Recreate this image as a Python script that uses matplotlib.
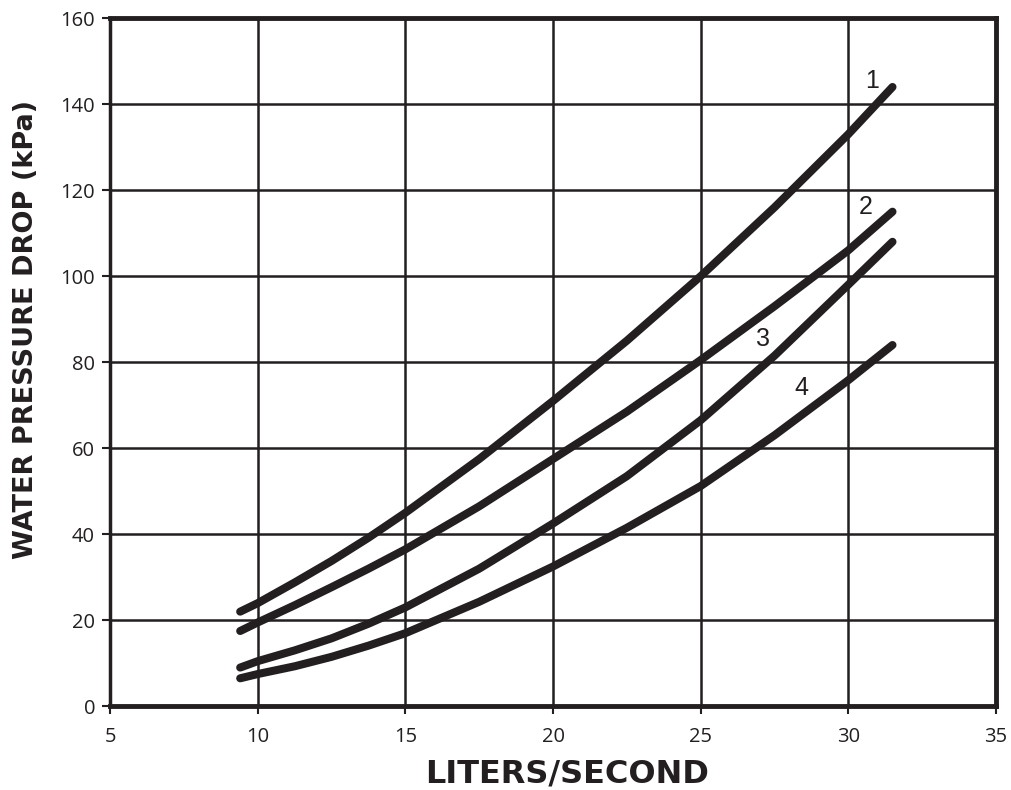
import matplotlib
matplotlib.use("Agg")
import matplotlib.pyplot as plt

# flow rate (L/s) at which each curve was read
flow = [9.4, 10, 11.25, 12.5, 13.75, 15, 17.5, 20, 22.5, 25, 27.5, 30, 31.5]

# pressure drop (kPa) per curve
curve_1 = [22, 24, 28.8, 33.8, 39.2, 45, 57.5, 71, 85, 100, 116, 133, 144]
curve_2 = [17.5, 19.5, 23.5, 27.7, 32, 36.5, 46.5, 57.5, 68.5, 80.5, 93, 106, 115]
curve_3 = [9, 10.5, 13, 15.8, 19.2, 23, 32, 42.5, 53.5, 66.5, 81.5, 98, 108]
curve_4 = [6.5, 7.5, 9.3, 11.5, 14.1, 17, 24.3, 32.5, 41.5, 51.2, 63, 75.8, 84]

curves = [curve_1, curve_2, curve_3, curve_4]
curve_names = ["1", "2", "3", "4"]
label_pos = [(30.8, 145.5), (30.6, 116), (27.1, 85.5), (28.4, 74)]

x_ticks = [5, 10, 15, 20, 25, 30, 35]
y_ticks = [0, 20, 40, 60, 80, 100, 120, 140, 160]

ink = "#231f20"

fig = plt.figure(figsize=(10.12, 7.9), dpi=100)
ax = fig.add_axes([0.109, 0.106, 0.875, 0.871])

for vals in curves:
    ax.plot(flow, vals, color=ink, lw=5.8, solid_capstyle="round",
            solid_joinstyle="round", zorder=3)

for name, (lx, ly) in zip(curve_names, label_pos):
    ax.text(lx, ly, name, fontsize=18, color=ink, ha="center", va="center",
            family="Liberation Sans", zorder=4)

ax.set_xlim(5, 35)
ax.set_ylim(0, 160)
ax.set_xticks(x_ticks)
ax.set_yticks(y_ticks)
ax.grid(True, color=ink, lw=1.8, zorder=1)

for side in ["top", "right", "bottom"]:
    ax.spines[side].set_linewidth(3.5)
ax.spines["left"].set_linewidth(2.5)
for s in ax.spines.values():
    s.set_color(ink)

ax.tick_params(axis="both", direction="out", length=6, width=1.5, color=ink,
               labelcolor=ink)
for lab in ax.get_xticklabels() + ax.get_yticklabels():
    lab.set_fontfamily("Open Sans")
    lab.set_fontsize(14.5)
ax.tick_params(axis="x", pad=9)
ax.tick_params(axis="y", pad=5)

ax.set_xlabel("LITERS/SECOND", fontsize=23, fontweight="bold",
              family="DejaVu Sans", color=ink)
ax.set_ylabel("WATER PRESSURE DROP (kPa)", fontsize=19.5, fontweight="bold",
              family="DejaVu Sans", color=ink)
ax.xaxis.set_label_coords(0.516, -0.076)
ax.yaxis.set_label_coords(-0.081, 0.548)

fig.savefig("out.png", dpi=100)
plt.close(fig)
